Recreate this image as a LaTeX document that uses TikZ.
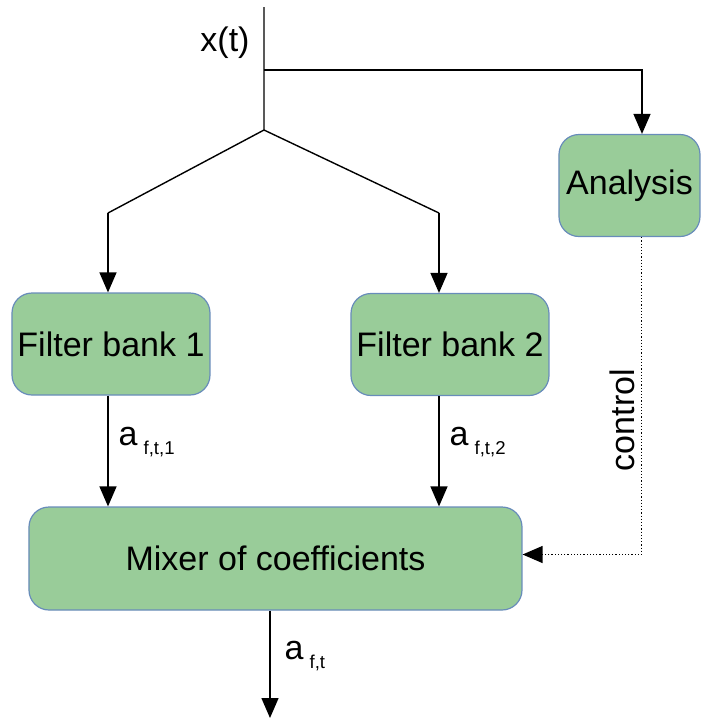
\documentclass[tikz,border=0pt]{standalone}
\usepackage{fontspec}
\setmainfont{Liberation Sans}
\usetikzlibrary{arrows.meta,positioning,calc}

\definecolor{blockfill}{RGB}{153,204,153}
\definecolor{blockedge}{RGB}{104,140,186}

\tikzset{
  block/.style={draw=blockedge, fill=blockfill, rounded corners=10pt, line width=0.6pt,
    inner sep=0pt, minimum height=51pt, font=\fontsize{17}{20}\selectfont},
  flow/.style={line width=0.7pt, -{Triangle[width=8.5pt,length=10pt]}},
  lbl/.style={font=\fontsize{17}{20}\selectfont, inner sep=0pt}
}
\newcommand{\coef}[1]{a\hspace{3pt}\raisebox{-4.5pt}{\fontsize{9.3}{11}\selectfont #1}}

\begin{document}
\begin{tikzpicture}[x=0.5pt,y=-0.5pt]
\useasboundingbox (0,0) rectangle (702,720);
% blocks
\node[block, minimum width=70.5pt] (analysis) at (629.5,185.5) {Analysis};
\node[block, minimum width=99pt] (bank1) at (111,344) {Filter bank 1};
\node[block, minimum width=99pt] (bank2) at (450,344.5) {Filter bank 2};
\node[block, minimum width=246.5pt, minimum height=51.5pt] (mixer) at (275.5,558.5) {Mixer of coefficients};
% signal tree
\coordinate (top) at (264,7);
\coordinate (tap) at (264,70);
\coordinate (split) at (264,130);
\coordinate (left) at (108,213);
\coordinate (right) at (439,213);
\coordinate (out) at (270,718);
\node[lbl] (input) at (225,43) {x(t)};
\draw[line width=0.7pt] (top) -- (split) -- (left);
\draw[line width=0.7pt] (split) -- (right);
\draw[flow] (tap) -| ([xshift=6.25pt]analysis.north);
\draw[flow] (left) -- (left |- bank1.north);
\draw[flow] (right) -- (right |- bank2.north);
% coefficients
\draw[flow] (left |- bank1.south) -- (left |- mixer.north)
  node[lbl, pos=0.42, right=5pt] (coef1) {\coef{f,t,1}};
\draw[flow] (right |- bank2.south) -- (right |- mixer.north)
  node[lbl, pos=0.42, right=5pt] (coef2) {\coef{f,t,2}};
\draw[flow] (out |- mixer.south) -- (out)
  node[lbl, pos=0.42, right=7pt] (coef) {\coef{f,t}};
% control path
\draw[flow, line width=0.6pt, densely dotted] ([xshift=6pt]analysis.south) |- ([yshift=2pt]mixer.east);
\node[lbl, rotate=90] (ctrl) at (622,420) {control};
\end{tikzpicture}
\end{document}
